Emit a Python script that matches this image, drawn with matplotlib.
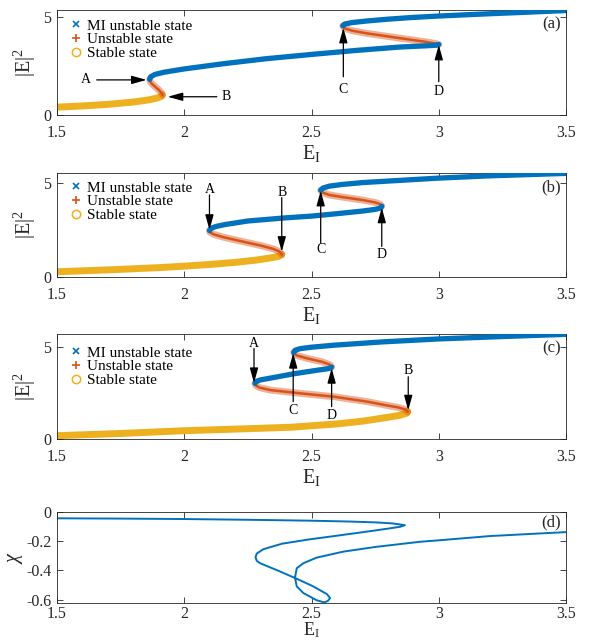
import matplotlib
matplotlib.use("Agg")
import matplotlib.pyplot as plt
from matplotlib.lines import Line2D

plt.rcParams['font.family'] = ['Liberation Serif', 'DejaVu Serif']
plt.rcParams['mathtext.fontset'] = 'custom'
plt.rcParams['mathtext.rm'] = 'Liberation Serif'
plt.rcParams['mathtext.it'] = 'Liberation Serif:italic'

BLUE = '#0072BD'
ORANGE = '#D95319'
YELLOW = '#EDB120'
AXC = '#262626'

# ---- panel (a) branches: (E_I, |E|^2)
a_stable_x = [1.5, 1.6, 1.7, 1.8, 1.86, 1.895, 1.91, 1.914]
a_stable_y = [0.40, 0.46, 0.54, 0.66, 0.77, 0.87, 0.95, 1.02]
a_unst1_x = [1.914, 1.911, 1.9, 1.885, 1.872, 1.866, 1.864]
a_unst1_y = [1.02, 1.12, 1.28, 1.45, 1.6, 1.72, 1.82]
a_mi1_x = [1.864, 1.868, 1.885, 1.92, 2.0, 2.15, 2.32, 2.5, 2.68, 2.85, 2.95, 2.99, 3.0]
a_mi1_y = [1.82, 1.95, 2.07, 2.18, 2.35, 2.61, 2.87, 3.09, 3.3, 3.47, 3.53, 3.56, 3.6]
a_unst2_x = [2.623, 2.63, 2.66, 2.72, 2.80, 2.88, 2.95, 2.99, 3.0]
a_unst2_y = [4.55, 4.42, 4.3, 4.16, 4.01, 3.86, 3.73, 3.64, 3.6]
a_mi2_x = [2.623, 2.63, 2.66, 2.72, 2.8, 2.9, 3.0, 3.15, 3.3, 3.5]
a_mi2_y = [4.55, 4.64, 4.72, 4.8, 4.89, 4.98, 5.05, 5.14, 5.22, 5.33]

# ---- panel (b)
b_stable_x = [1.5, 1.7, 1.9, 2.0, 2.1, 2.2, 2.28, 2.34, 2.37, 2.383]
b_stable_y = [0.28, 0.38, 0.5, 0.58, 0.67, 0.78, 0.9, 1.02, 1.1, 1.2]
b_unst1_x = [2.383, 2.375, 2.35, 2.3, 2.22, 2.15, 2.115, 2.102, 2.099]
b_unst1_y = [1.2, 1.35, 1.5, 1.68, 1.92, 2.14, 2.28, 2.38, 2.48]
b_mi1_x = [2.099, 2.105, 2.125, 2.16, 2.25, 2.4, 2.5, 2.6, 2.7, 2.75, 2.772, 2.776]
b_mi1_y = [2.48, 2.6, 2.7, 2.8, 2.99, 3.16, 3.25, 3.38, 3.52, 3.61, 3.68, 3.78]
b_unst2_x = [2.536, 2.545, 2.57, 2.62, 2.7, 2.75, 2.77, 2.776]
b_unst2_y = [4.63, 4.5, 4.38, 4.27, 4.11, 3.98, 3.88, 3.78]
b_mi2_x = [2.536, 2.545, 2.57, 2.62, 2.7, 2.8, 2.9, 3.0, 3.2, 3.5]
b_mi2_y = [4.63, 4.75, 4.85, 4.94, 5.04, 5.12, 5.2, 5.28, 5.4, 5.53]

# ---- panel (c)
c_stable_x = [1.5, 1.75, 2.0, 2.25, 2.42, 2.6, 2.7, 2.8, 2.85, 2.875, 2.878]
c_stable_y = [0.18, 0.3, 0.45, 0.56, 0.64, 0.82, 0.97, 1.18, 1.3, 1.41, 1.48]
c_unst1_x = [2.878, 2.87, 2.84, 2.78, 2.72, 2.59, 2.46, 2.34, 2.295, 2.281, 2.278]
c_unst1_y = [1.48, 1.6, 1.72, 1.87, 2.03, 2.3, 2.48, 2.66, 2.8, 2.92, 3.03]
c_mi1_x = [2.278, 2.283, 2.3, 2.34, 2.43, 2.52, 2.56, 2.575, 2.579]
c_mi1_y = [3.03, 3.14, 3.22, 3.32, 3.55, 3.74, 3.82, 3.86, 3.92]
c_unst2_x = [2.43, 2.44, 2.48, 2.54, 2.57, 2.579]
c_unst2_y = [4.71, 4.56, 4.4, 4.21, 4.06, 3.92]
c_mi2_x = [2.43, 2.435, 2.455, 2.5, 2.59, 2.78, 3.0, 3.25, 3.5]
c_mi2_y = [4.71, 4.83, 4.92, 5.0, 5.11, 5.29, 5.45, 5.58, 5.7]

# ---- panel (d): chi vs E_I
d_x = [1.5, 1.75, 2.0, 2.25, 2.49, 2.65, 2.754, 2.82, 2.867, 2.85, 2.82, 2.754,
       2.606, 2.49, 2.384, 2.31, 2.285, 2.28, 2.285, 2.298, 2.376, 2.442, 2.507,
       2.56, 2.573, 2.565, 2.55, 2.52, 2.468, 2.442, 2.435, 2.442, 2.468, 2.52,
       2.625, 2.756, 2.926, 3.0, 3.2, 3.5]
d_y = [-0.045, -0.047, -0.05, -0.055, -0.061, -0.067, -0.073, -0.08, -0.092,
       -0.102, -0.11, -0.127, -0.162, -0.189, -0.218, -0.256, -0.285, -0.31,
       -0.335, -0.351, -0.407, -0.457, -0.509, -0.561, -0.588, -0.607, -0.618,
       -0.603, -0.554, -0.509, -0.45, -0.385, -0.351, -0.313, -0.272, -0.239,
       -0.205, -0.195, -0.166, -0.139]

xticks = [1.5, 2, 2.5, 3, 3.5]
xtick_labels = ['1.5', '2', '2.5', '3', '3.5']


def style_axes(ax, xlab_y, xpad=7):
    for s in ax.spines.values():
        s.set_color(AXC)
        s.set_linewidth(0.6)
    ax.tick_params(direction='in', top=True, right=True, length=4, width=0.6,
                   colors=AXC, labelsize=11.5)
    ax.tick_params(axis='x', pad=xpad)
    ax.tick_params(axis='y', pad=4)
    ax.set_xlim(1.5, 3.5)
    ax.set_xticks(xticks)
    ax.set_xticklabels(xtick_labels)
    ax.set_xlabel(r'$\mathrm{E_I}$', fontsize=14.5, color=AXC)
    ax.xaxis.set_label_coords(0.5, xlab_y)


def draw_branches(ax, stable, unst, mi):
    sx, sy = stable
    ax.plot(sx, sy, color=YELLOW, lw=5, solid_capstyle='round', zorder=2)
    for ux, uy in unst:
        ax.plot(ux, uy, color=ORANGE, lw=5, alpha=0.45, solid_capstyle='round', zorder=3)
        ax.plot(ux, uy, color=ORANGE, lw=1.8, solid_capstyle='round', zorder=3)
    for mx, my in mi:
        ax.plot(mx, my, color=BLUE, lw=3.8, solid_capstyle='round', zorder=4)


def arrow(ax, tail, head, label, label_xy):
    ax.annotate('', xy=head, xytext=tail,
                arrowprops=dict(arrowstyle='-|>,head_length=0.65,head_width=0.18',
                                color='k', lw=0.9, mutation_scale=14,
                                shrinkA=0, shrinkB=0), zorder=6)
    ax.text(label_xy[0], label_xy[1], label, fontsize=10, ha='center', va='center', zorder=6)


def add_legend(ax, y):
    handles = [Line2D([], [], ls='none', marker='x', color=BLUE, ms=5, mew=1.2),
               Line2D([], [], ls='none', marker='+', color=ORANGE, ms=6, mew=1.2),
               Line2D([], [], ls='none', marker='o', color=YELLOW, mfc='none', ms=6, mew=1.1)]
    labels = ['MI unstable state', 'Unstable state', 'Stable state']
    ax.legend(handles, labels, loc='upper left', bbox_to_anchor=(0.026, y),
              frameon=False, fontsize=11, handlelength=0.75, handletextpad=0.35,
              labelspacing=0.0, borderpad=0, borderaxespad=0)


fig = plt.figure(figsize=(5.89, 6.43), dpi=100)
L, W = 0.0968, 0.8642
ax_a = fig.add_axes([L, 0.8212, W, 0.1633])
ax_b = fig.add_axes([L, 0.5692, W, 0.1617])
ax_c = fig.add_axes([L, 0.3173, W, 0.1633])
ax_d = fig.add_axes([L, 0.0622, W, 0.1420])

# (a)
draw_branches(ax_a, (a_stable_x, a_stable_y),
              [(a_unst1_x, a_unst1_y), (a_unst2_x, a_unst2_y)],
              [(a_mi1_x, a_mi1_y), (a_mi2_x, a_mi2_y)])
ax_a.set_ylim(0, 5.36)
arrow(ax_a, (1.656, 1.79), (1.852, 1.79), 'A', (1.612, 1.79))
arrow(ax_a, (2.128, 0.93), (1.935, 0.93), 'B', (2.165, 0.93))
arrow(ax_a, (2.625, 1.95), (2.625, 4.45), 'C', (2.625, 1.3))
arrow(ax_a, (3.0, 1.7), (3.0, 3.58), 'D', (3.0, 1.22))
add_legend(ax_a, 0.915)

# (b)
draw_branches(ax_b, (b_stable_x, b_stable_y),
              [(b_unst1_x, b_unst1_y), (b_unst2_x, b_unst2_y)],
              [(b_mi1_x, b_mi1_y), (b_mi2_x, b_mi2_y)])
ax_b.set_ylim(0, 5.55)
arrow(ax_b, (2.099, 4.38), (2.099, 2.52), 'A', (2.099, 4.66))
arrow(ax_b, (2.383, 4.24), (2.383, 1.35), 'B', (2.383, 4.52))
arrow(ax_b, (2.536, 1.81), (2.536, 4.6), 'C', (2.536, 1.45))
arrow(ax_b, (2.776, 1.63), (2.776, 3.7), 'D', (2.776, 1.22))
add_legend(ax_b, 0.925)

# (c)
draw_branches(ax_c, (c_stable_x, c_stable_y),
              [(c_unst1_x, c_unst1_y), (c_unst2_x, c_unst2_y)],
              [(c_mi1_x, c_mi1_y), (c_mi2_x, c_mi2_y)])
ax_c.set_ylim(0, 5.72)
arrow(ax_c, (2.274, 4.93), (2.274, 3.05), 'A', (2.274, 5.2))
arrow(ax_c, (2.88, 3.39), (2.88, 1.56), 'B', (2.88, 3.71))
arrow(ax_c, (2.428, 2.03), (2.428, 4.68), 'C', (2.428, 1.54))
arrow(ax_c, (2.579, 1.76), (2.579, 3.86), 'D', (2.579, 1.3))
add_legend(ax_c, 0.885)

for ax, lab in [(ax_a, '(a)'), (ax_b, '(b)'), (ax_c, '(c)')]:
    style_axes(ax, -0.27)
    ax.set_yticks([0, 5])
    ax.set_yticklabels(['0', '5'])
    ax.set_ylabel(r'$\mathrm{|E|^2}$', fontsize=14.5, color=AXC)
    ax.yaxis.set_label_coords(-0.037, 0.5)
    ax.text(0.99, 0.86, lab, transform=ax.transAxes, ha='right', va='center',
            fontsize=12, color=AXC)

# (d)
ax_d.plot(d_x, d_y, color=BLUE, lw=1.4)
style_axes(ax_d, -0.41, xpad=2)
ax_d.xaxis.label.set_fontsize(13)
ax_d.xaxis.label.set_va('bottom')
ax_d.set_ylim(-0.622, 0)
ax_d.set_yticks([0, -0.2, -0.4, -0.6])
ax_d.set_yticklabels(['0', '-0.2', '-0.4', '-0.6'])
ax_d.set_ylabel(r'$\chi$', fontsize=14.5, color=AXC)
ax_d.yaxis.set_label_coords(-0.063, 0.5)
ax_d.text(0.99, 0.88, '(d)', transform=ax_d.transAxes, ha='right', va='center',
          fontsize=12, color=AXC)

fig.savefig('out.png', dpi=100)
